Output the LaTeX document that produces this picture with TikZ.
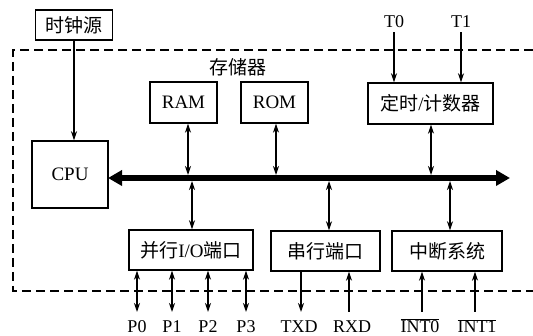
\documentclass[tikz,border=0pt]{standalone}
\usepackage{fontspec}
\setmainfont{Liberation Serif}
\newfontfamily\cjk{Noto Sans CJK SC}
\usetikzlibrary{arrows.meta}
\begin{document}
\begin{tikzpicture}[x=1pt,y=-1pt,
  blk/.style={draw, line width=1.4pt, inner sep=0pt, font=\fontsize{19}{21}\selectfont},
  lbl/.style={inner sep=0pt, font=\fontsize{18}{20}\selectfont},
  blbl/.style={lbl, anchor=base},
  arr/.style={line width=1.2pt, -{Stealth[length=9pt,width=6pt]}},
  darr/.style={line width=1.2pt, {Stealth[length=9pt,width=6pt]}-{Stealth[length=9pt,width=6pt]}},
  bus/.style={line width=6pt, {Triangle[length=14pt,width=15pt]}-{Triangle[length=14pt,width=15pt]}},
  border/.style={line width=1.3pt, dash pattern=on 9pt off 5pt}]
\useasboundingbox[fill=white] (0,0) rectangle (533,336);

% dashed border
\draw[border] (533,50) -- (13,50) -- (13,291) -- (533,291);

% boxes
\node[blk, minimum width=77pt, minimum height=30pt] (clk) at (74,25) {\cjk 时钟源};
\node[blk, minimum width=67pt, minimum height=41pt] (ram) at (183.5,102.5) {RAM};
\node[blk, minimum width=67pt, minimum height=41pt] (rom) at (274.5,102.5) {ROM};
\node[blk, minimum width=125pt, minimum height=41pt] (tmr) at (430.5,103.5) {{\cjk 定时}/{\cjk 计数器}};
\node[blk, minimum width=76pt, minimum height=67pt] (cpu) at (70,174.5) {CPU};
\node[blk, minimum width=124pt, minimum height=40pt] (pio) at (191,250) {{\cjk 并行}I/O{\cjk 端口}};
\node[blk, minimum width=109pt, minimum height=40pt] (sio) at (325.5,251) {\cjk 串行端口};
\node[blk, minimum width=110pt, minimum height=40pt] (int) at (447,251) {\cjk 中断系统};

\node[lbl, font=\fontsize{19}{21}\selectfont] (mem) at (238,67) {\cjk 存储器};

% bus
\coordinate (busL) at (108,178);
\coordinate (busR) at (510,178);
\coordinate (busT) at (0,175);
\coordinate (busB) at (0,181);
\draw[bus] (busL) -- (busR);

% clock
\draw[arr] (clk.south) -- (clk.south |- cpu.north);

% memory & timer to bus
\coordinate (ra) at ([xshift=4.5pt]ram.south);
\coordinate (ro) at ([xshift=1.5pt]rom.south);
\coordinate (tm) at ([xshift=0.5pt]tmr.south);
\draw[darr] (ra) -- (ra |- busT);
\draw[darr] (ro) -- (ro |- busT);
\draw[darr] (tm) -- (tm |- busT);

% bus to lower boxes
\coordinate (pa) at ([xshift=1pt]pio.north);
\coordinate (sa) at ([xshift=3.5pt]sio.north);
\coordinate (ia) at ([xshift=3pt]int.north);
\draw[darr] (pa |- busB) -- (pa);
\draw[darr] (sa |- busB) -- (sa);
\draw[darr] (ia |- busB) -- (ia);

% T0 T1
\node[lbl] (t0) at (394,22) {T0};
\node[lbl] (t1) at (461,22) {T1};
\draw[arr] ([yshift=-4pt]t0.south) -- (t0.south |- tmr.north);
\draw[arr] ([yshift=-4pt]t1.south) -- (t1.south |- tmr.north);

% ports
\coordinate (pend) at (0,312);
\node[blbl] (p0) at (137,333) {P0};
\node[blbl] (p1) at (172,333) {P1};
\node[blbl] (p2) at (208,333) {P2};
\node[blbl] (p3) at (246,333) {P3};
\foreach \p in {p0,p1,p2,p3}{
  \draw[darr] (\p |- pio.south) -- (\p |- pend);
}

% serial
\node[blbl] (txd) at (299,333) {TXD};
\node[blbl] (rxd) at (352,333) {RXD};
\coordinate (tx) at (301,312);
\coordinate (rx) at (349,312);
\draw[arr] (tx |- sio.south) -- (tx);
\draw[arr] (rx) -- (rx |- sio.south);

% interrupts
\node[blbl] (i0) at (420,333) {$\overline{\hbox{INT0}}$};
\node[blbl] (i1) at (477,333) {$\overline{\hbox{INT1}}$};
\coordinate (ic0) at (422,312);
\coordinate (ic1) at (475,312);
\draw[arr] (ic0) -- (ic0 |- int.south);
\draw[arr] (ic1) -- (ic1 |- int.south);
\end{tikzpicture}
\end{document}
